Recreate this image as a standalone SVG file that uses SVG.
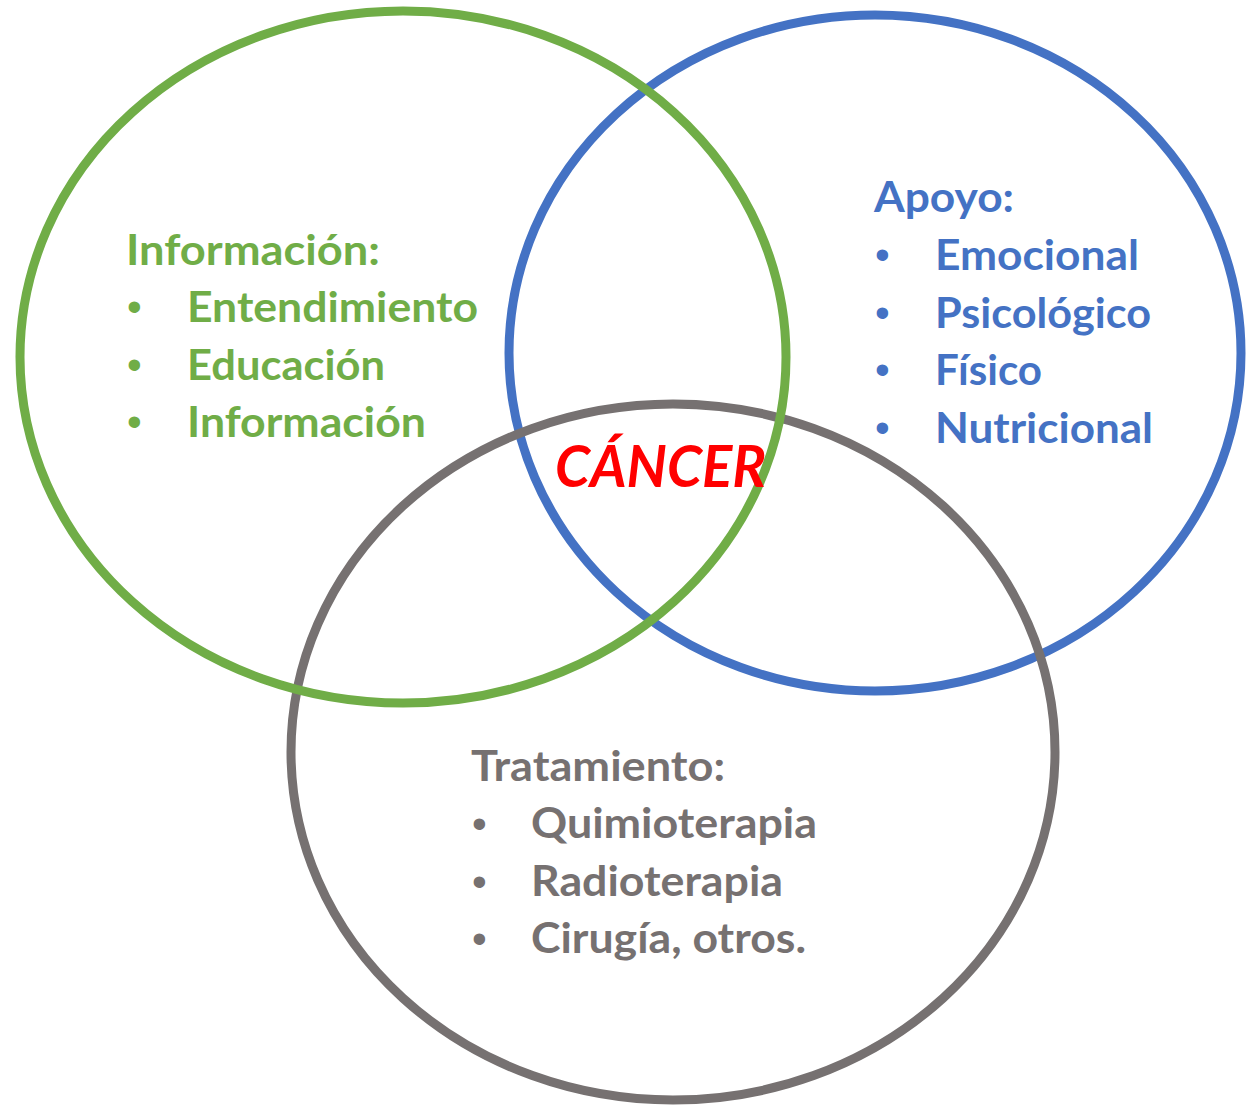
<svg xmlns="http://www.w3.org/2000/svg" width="1247" height="1108" viewBox="0 0 1247 1108">
<style>
.ring{fill:none;stroke-width:9}
.t{font-family:Lato,"Noto Sans","Liberation Sans",sans-serif;font-weight:bold;font-size:42px}
.d{font-family:"Liberation Sans",Arial,sans-serif;font-size:42px}
.g{fill:#70AD47}.b{fill:#4472C4}.k{fill:#767171}
.c{font-family:Lato,"Noto Sans","Liberation Sans",sans-serif;font-weight:bold;font-style:italic;font-size:58px;fill:#FF0000}
</style>
<rect width="1247" height="1108" fill="#fff"/>
<g id="connectors"></g>
<g id="apoyo">
<ellipse class="ring" cx="875" cy="353" rx="366" ry="338" stroke="#4472C4"/>
<text class="t b" x="874" y="212" textLength="140" lengthAdjust="spacingAndGlyphs">Apoyo:</text>
<text class="d b" x="875" y="269">•</text><text class="t b" x="935" y="270" textLength="204" lengthAdjust="spacingAndGlyphs">Emocional</text>
<text class="d b" x="875" y="327">•</text><text class="t b" x="935" y="328" textLength="216" lengthAdjust="spacingAndGlyphs">Psicológico</text>
<text class="d b" x="875" y="384">•</text><text class="t b" x="935" y="385" textLength="107" lengthAdjust="spacingAndGlyphs">Físico</text>
<text class="d b" x="875" y="442">•</text><text class="t b" x="935" y="443" textLength="218" lengthAdjust="spacingAndGlyphs">Nutricional</text>
</g>
<g id="tratamiento">
<ellipse class="ring" cx="673" cy="752" rx="382" ry="348" stroke="#767171"/>
<text class="t k" x="471" y="781" textLength="254" lengthAdjust="spacingAndGlyphs">Tratamiento:</text>
<text class="d k" x="472" y="838">•</text><text class="t k" x="531" y="838" textLength="286" lengthAdjust="spacingAndGlyphs">Quimioterapia</text>
<text class="d k" x="472" y="896">•</text><text class="t k" x="531" y="896" textLength="252" lengthAdjust="spacingAndGlyphs">Radioterapia</text>
<text class="d k" x="472" y="953">•</text><text class="t k" x="531" y="953" textLength="275" lengthAdjust="spacingAndGlyphs">Cirugía, otros.</text>
</g>
<g id="informacion">
<ellipse class="ring" cx="403" cy="357" rx="383" ry="346" stroke="#70AD47"/>
<text class="t g" x="126" y="265" textLength="254" lengthAdjust="spacingAndGlyphs">Información:</text>
<text class="d g" x="127" y="321">•</text><text class="t g" x="187" y="322" textLength="291" lengthAdjust="spacingAndGlyphs">Entendimiento</text>
<text class="d g" x="127" y="379">•</text><text class="t g" x="187" y="380" textLength="198" lengthAdjust="spacingAndGlyphs">Educación</text>
<text class="d g" x="127" y="436">•</text><text class="t g" x="187" y="437" textLength="239" lengthAdjust="spacingAndGlyphs">Información</text>
</g>
<g id="cancer">
<text class="c" x="555" y="487" textLength="211" lengthAdjust="spacingAndGlyphs">CÁNCER</text>
</g>
</svg>
